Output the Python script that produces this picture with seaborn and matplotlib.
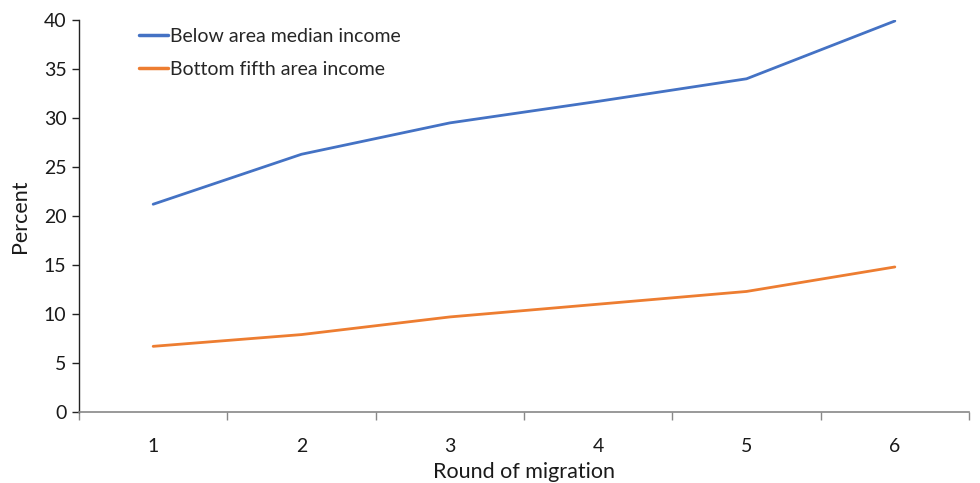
import matplotlib
matplotlib.use("Agg")
import matplotlib.pyplot as plt
import seaborn as sns
import pandas as pd
from matplotlib.ticker import FixedLocator, NullFormatter, FixedFormatter

rounds = [1, 2, 3, 4, 5, 6]
below_median = [21.2, 26.3, 29.5, 31.7, 34.0, 39.9]
bottom_fifth = [6.7, 7.9, 9.7, 11.0, 12.3, 14.8]
series_names = ["Below area median income", "Bottom fifth area income"]
colors = ["#4472C4", "#ED7D31"]
y_ticks = [0, 5, 10, 15, 20, 25, 30, 35, 40]

df = pd.DataFrame({
    "round": rounds * 2,
    "value": below_median + bottom_fifth,
    "series": [series_names[0]] * len(rounds) + [series_names[1]] * len(rounds),
})

sns.set_theme(style="white")
plt.rcParams["font.family"] = ["Lato", "DejaVu Sans"]

fig = plt.figure(figsize=(9.8, 4.83), dpi=100)
ax = fig.add_axes([0.0806, 0.147, 0.9888 - 0.0806, 0.9586 - 0.147])

sns.lineplot(data=df, x="round", y="value", hue="series", palette=colors,
             hue_order=series_names, linewidth=2.0, ax=ax, legend=True)

ax.set_xlim(0.5, 6.5)
ax.set_ylim(0, 40)
ax.set_yticks(y_ticks)
ax.set_yticklabels([str(t) for t in y_ticks], fontsize=14, color="#1a1a1a")

# x: ticks at category boundaries, labels at centers
ax.xaxis.set_major_locator(FixedLocator([r - 0.5 for r in rounds] + [rounds[-1] + 0.5]))
ax.xaxis.set_major_formatter(NullFormatter())
ax.xaxis.set_minor_locator(FixedLocator(rounds))
ax.xaxis.set_minor_formatter(FixedFormatter([str(r) for r in rounds]))
ax.tick_params(axis="x", which="major", direction="out", length=6, width=1, color="#888888", bottom=True)
ax.tick_params(axis="x", which="minor", length=0, pad=19, labelsize=14, labelcolor="#1a1a1a", bottom=True)
ax.tick_params(axis="y", direction="out", length=5, width=1, color="#222222", left=True, pad=4)

for s in ["top", "right"]:
    ax.spines[s].set_visible(False)
ax.spines["left"].set_color("#222222")
ax.spines["left"].set_linewidth(1)
ax.spines["bottom"].set_color("#888888")
ax.spines["bottom"].set_linewidth(1.2)

ax.set_xlabel("Round of migration", fontsize=15.5, color="#1a1a1a", labelpad=5)
ax.set_ylabel("Percent", fontsize=15.5, color="#1a1a1a", labelpad=10)

leg = ax.legend(loc="upper left", bbox_to_anchor=(0.054, 1.01), frameon=False,
                fontsize=14, handlelength=1.5, handletextpad=0.12, labelspacing=0.82,
                borderaxespad=0.2)
for line in leg.get_lines():
    line.set_linewidth(2.5)

fig.savefig("out.png", dpi=100)
